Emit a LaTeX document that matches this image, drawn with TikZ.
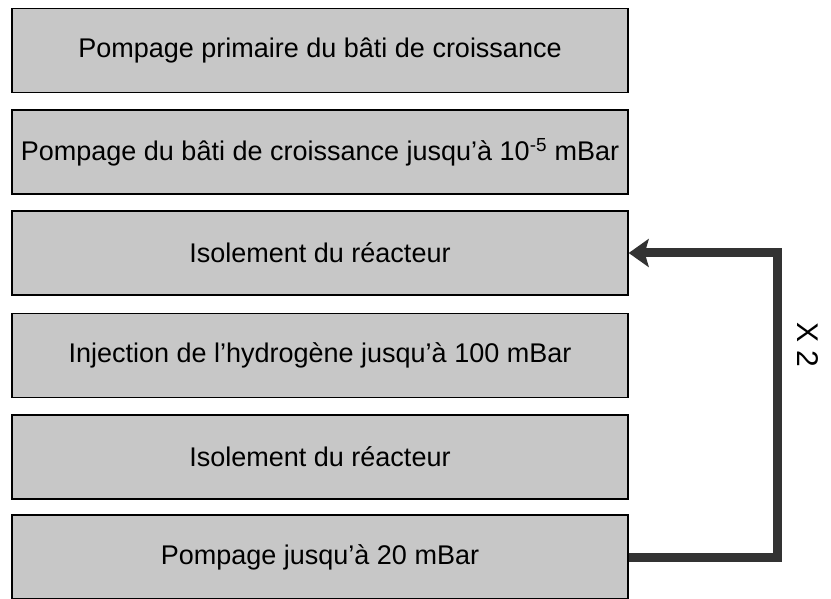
\documentclass[tikz,border=0pt]{standalone}
\usepackage{fontspec}
\setmainfont{Liberation Sans}
\usetikzlibrary{arrows.meta}

\begin{document}
\begin{tikzpicture}[x=1pt, y=-1pt,
  etape/.style={draw=black, line width=1.4pt, fill=black!22,
    minimum width=616pt, minimum height=84pt, inner sep=0pt,
    font=\fontsize{27}{32}\selectfont},
  boucle/.style={draw=black!80, line width=9pt,
    -{Stealth[length=20pt, width=28pt, inset=4pt]}}]
  \useasboundingbox (0,0) rectangle (831,599);
  \node[etape] (e1) at (320,50.5) {Pompage primaire du bâti de croissance};
  \node[etape] (e2) at (320,152) {Pompage du bâti de croissance jusqu'à 10\textsuperscript{-5} mBar};
  \node[etape] (e3) at (320,253) {Isolement du réacteur};
  \node[etape] (e4) at (320,355.5) {Injection de l'hydrogène jusqu'à 100 mBar};
  \node[etape] (e5) at (320,457) {Isolement du réacteur};
  \node[etape] (e6) at (320,557) {Pompage jusqu'à 20 mBar};
  \coordinate (coin) at (777,253);
  \draw[boucle] (e6.east) -| (coin) -- (e3.east);
  \node[rotate=-90, font=\fontsize{30}{32}\selectfont] (fois) at (808,345) {X 2};
\end{tikzpicture}
\end{document}
